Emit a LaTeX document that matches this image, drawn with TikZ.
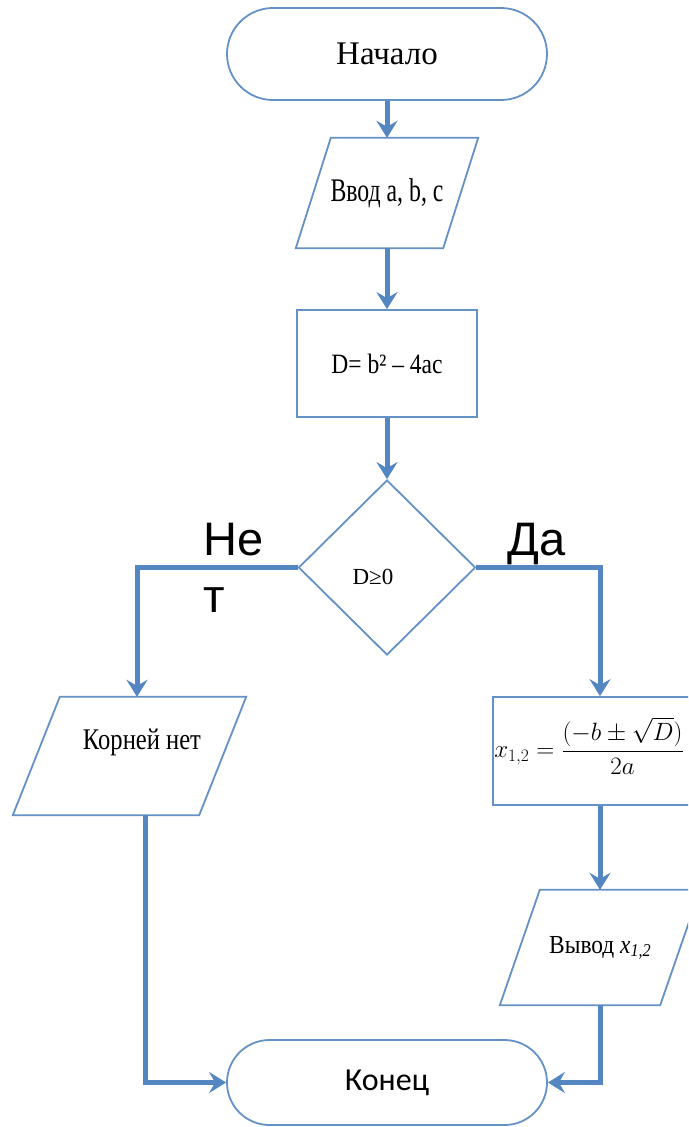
\RequirePackage{fix-cm}
\documentclass[tikz,border=0pt]{standalone}
\usepackage{graphicx}
\usepackage{amsmath}
\usepackage{fontspec}
\newfontfamily\lserif{Liberation Serif}
\newfontfamily\lsans{Liberation Sans}
\newfontfamily\carl{Carlito}
\usetikzlibrary{shapes.geometric,shapes.misc,arrows.meta}
\definecolor{lineblue}{RGB}{84,134,194}
\definecolor{shapeblue}{RGB}{100,145,198}
\newcommand{\sx}[2]{\scalebox{#1}[1]{#2}}
\newcommand{\drawpara}[2]{\draw[shp] ([xshift=#2]#1.north west) -- ([xshift=#2]#1.north east) -- ([xshift=-#2]#1.south east) -- ([xshift=-#2]#1.south west) -- cycle;}
\begin{document}
\begin{tikzpicture}[x=1pt,y=-1pt,
  shp/.style={draw=shapeblue, line width=1.8pt},
  term/.style={shp, fill=white, rounded rectangle, minimum width=320pt, inner sep=0pt},
  procbox/.style={shp, fill=white, rectangle, inner sep=0pt},
  decis/.style={shp, fill=white, diamond, inner sep=0pt, minimum width=177pt, minimum height=175pt},
  parabox/.style={rectangle, inner sep=0pt},
  arr/.style={draw=lineblue, line width=5pt, -{Stealth[length=17pt,width=21pt,inset=6pt]}},
  txt/.style={inner sep=0pt, text=black},
  lbl/.style={inner sep=0pt, font=\lsans\fontsize{47}{57}\selectfont, anchor=base west}
]
\useasboundingbox (0,0) rectangle (688,1127);
\clip (0,0) rectangle (688,1127);
\fill[white] (0,0) rectangle (688,1127);

\node[term, minimum height=92pt, font=\lserif\fontsize{33}{40}\selectfont] (start) at (387,54) {Начало};
\node[parabox, minimum width=147pt, minimum height=110pt, font=\lserif\fontsize{33}{40}\selectfont] (in) at (387,193) {\sx{0.72}{Ввод a, b, c}};
\drawpara{in}{17.5}
\node[procbox, minimum width=180pt, minimum height=107pt, font=\lserif\fontsize{28}{34}\selectfont] (calc) at (387,363.5) {\sx{0.84}{D= b² – 4ac}};
\node[decis] (dec) at (387,567.5) {};
\node[txt, font=\lserif\fontsize{23}{28}\selectfont] (decT) at (373,577) {D≥0};
\node[parabox, minimum width=186pt, minimum height=118pt] (noroots) at (129.5,756) {};
\drawpara{noroots}{23.5}
\node[txt, font=\lserif\fontsize{30}{36}\selectfont] (norootsT) at (142,742) {\sx{0.82}{Корней нет}};
\node[procbox, minimum width=214pt, minimum height=108pt] (form) at (600,751) {};
\node[txt, font=\fontsize{25}{30}\selectfont] (formT) at (589,746) {$\displaystyle x_{1,2}=\frac{(-b\pm\sqrt{D})}{2a}$};
\node[parabox, minimum width=160pt, minimum height=115pt, font=\lserif\fontsize{26}{31}\selectfont] (out) at (600,947.5) {\sx{0.9}{Вывод \textit{x}\raisebox{-0.25ex}{\fontsize{18}{20}\selectfont\itshape 1,2}}};
\drawpara{out}{20}
\node[term, minimum height=85pt, font=\carl\fontsize{32}{38}\selectfont] (end) at (387,1082.5) {Конец};

\node[lbl] (no) at (203,555) {Не};
\node[lbl] (no2) at (203,612) {т};
\node[lbl] (yes) at (507,555) {Да};

\draw[arr] (start.south) -- (in.north);
\draw[arr] (in.south) -- (calc.north);
\draw[arr] (calc.south) -- (dec.north);
\coordinate (nl) at (137,567.5);
\draw[arr] (dec.west) -- (nl) -- (nl |- noroots.north);
\draw[arr] (dec.east) -| (form.north);
\draw[arr] (form.south) -- (out.north);
\coordinate (nb) at (145,1082.5);
\draw[arr] (nb |- noroots.south) -- (nb) -- (end.west);
\draw[arr] (out.south) |- (end.east);
\end{tikzpicture}
\end{document}
